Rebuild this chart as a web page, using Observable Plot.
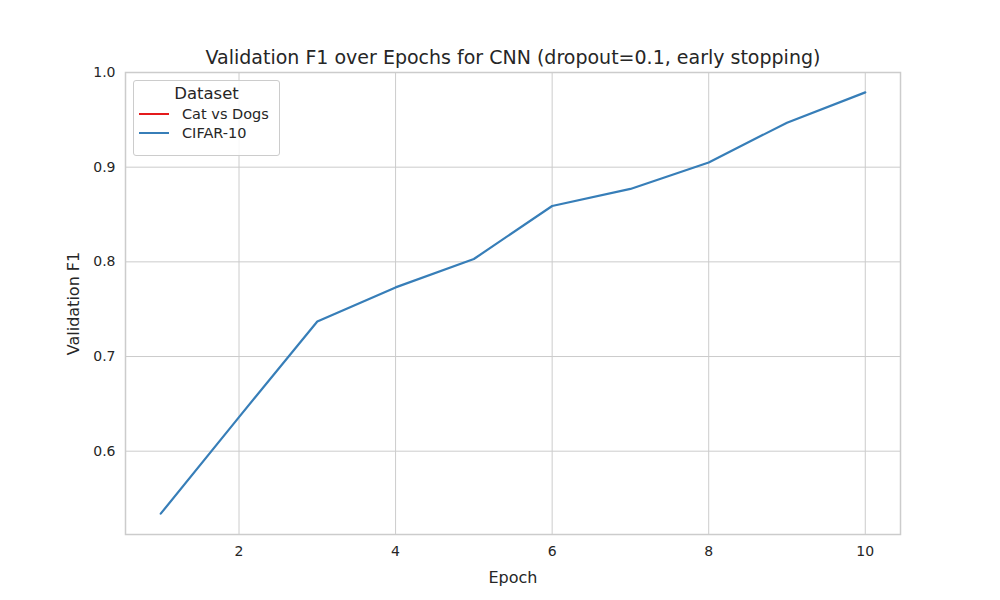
<!DOCTYPE html>
<html><head><meta charset="utf-8">
<script src="https://cdn.jsdelivr.net/npm/d3@7"></script>
<script src="https://cdn.jsdelivr.net/npm/@observablehq/plot@0.6"></script>
<style>
body{margin:0;background:#fff;font-family:"DejaVu Sans",sans-serif;}
#wrap{position:relative;width:1000px;height:600px;}
#title{position:absolute;top:46px;left:0;width:1026px;text-align:center;font-size:19px;color:#262626;}
#legend{position:absolute;left:133px;top:80px;width:145px;height:74px;border:1px solid #ccc;border-radius:3px;background:rgba(255,255,255,0.85);font-size:14.5px;color:#262626;}
#legend .h{text-align:center;font-size:16.5px;margin-top:3px;}
#legend .r{display:flex;align-items:center;margin:3px 0 0 5px;}
#legend .l{width:30px;height:2px;margin-right:13px;}
</style></head><body>
<div id="wrap"><div id="chart"></div>
<div id="title">Validation F1 over Epochs for CNN (dropout=0.1, early stopping)</div>
<div id="legend"><div class="h">Dataset</div>
<div class="r"><div class="l" style="background:#e41a1c"></div>Cat vs Dogs</div>
<div class="r"><div class="l" style="background:#377eb8"></div>CIFAR-10</div></div>
</div>
<script>
const epochs = [1,2,3,4,5,6,7,8,9,10];
const cifar = [0.534,0.636,0.737,0.773,0.803,0.859,0.877,0.905,0.947,0.979];
const xTicks = [2,4,6,8,10];
const yTicks = [0.6,0.7,0.8,0.9,1.0];
const data = epochs.map((e,i)=>({epoch:e,f1:cifar[i],dataset:"CIFAR-10"}));
const chart = Plot.plot({
  width:1000,height:600,
  marginTop:72,marginLeft:125,marginRight:100,marginBottom:66,
  style:{fontFamily:"DejaVu Sans",fontSize:"14px",color:"#262626"},
  x:{domain:[0.55,10.45],ticks:xTicks,tickSize:0,tickPadding:12,label:"Epoch",labelAnchor:"center",labelArrow:"none",labelOffset:48},
  y:{domain:[0.512,1.0],ticks:yTicks,tickSize:0,tickPadding:10,tickFormat:d3.format(".1f"),label:"Validation F1",labelAnchor:"center",labelArrow:"none",labelOffset:58},
  marks:[
    Plot.gridX(xTicks,{stroke:"#cccccc",strokeOpacity:1,strokeWidth:1}),
    Plot.gridY(yTicks,{stroke:"#cccccc",strokeOpacity:1,strokeWidth:1}),
    Plot.frame({stroke:"#cccccc",strokeWidth:1.5}),
    Plot.line(data,{x:"epoch",y:"f1",stroke:"#377eb8",strokeWidth:2.2})
  ]
});
chart.querySelectorAll("[aria-label='x-axis label'] text,[aria-label='y-axis label'] text").forEach(t=>t.style.fontSize="16px");
document.getElementById("chart").appendChild(chart);
</script></body></html>
